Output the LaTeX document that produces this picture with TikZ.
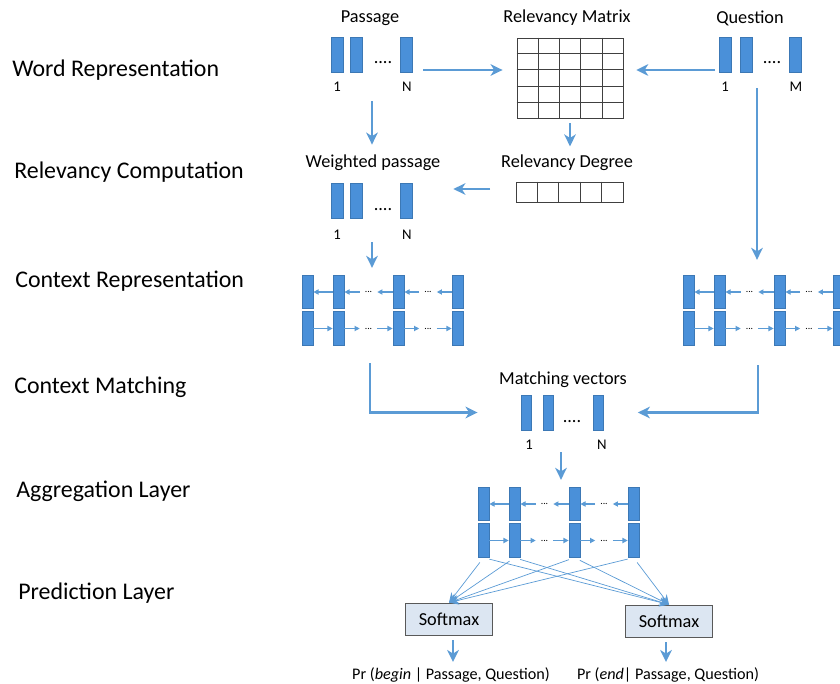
\documentclass[tikz,border=0pt]{standalone}
\usepackage{fontspec}
\setmainfont{Carlito}
\usepackage{xcolor}
\usepackage{tikz}
\usetikzlibrary{arrows.meta,calc}

\definecolor{barblue}{HTML}{4A90D9}
\definecolor{bardark}{HTML}{3C78B5}
\definecolor{flowblue}{HTML}{5B9BD5}
\definecolor{boxfill}{HTML}{DCE6F2}

\tikzset{
  layername/.style={anchor=west,inner sep=0pt,font=\fontsize{17}{20}\selectfont},
  headtext/.style={inner sep=1pt,font=\fontsize{13}{15}\selectfont},
  idx/.style={inner sep=1pt,font=\fontsize{10.5}{12}\selectfont},
  vbar/.style={draw=bardark,fill=barblue,line width=0.5pt,minimum width=3mm,minimum height=8.75mm,inner sep=0pt},
  cbar/.style={vbar,minimum width=2.75mm,minimum height=8.4mm},
  vdots/.style={anchor=base,inner sep=0pt,font=\fontsize{13}{15}\selectfont},
  rdots/.style={inner sep=0pt,minimum width=4.25mm,font=\fontsize{7}{8}\selectfont},
  gridline/.style={draw=black!75,line width=0.6pt,inner sep=0pt},
  flow/.style={draw=flowblue,line width=1.9pt,-{Stealth[length=3mm,width=2.9mm,inset=0.9mm]}},
  rnn/.style={draw=flowblue,line width=0.8pt,-{Triangle[length=1.3mm,width=1.3mm]}},
  fan/.style={draw=flowblue,line width=0.5pt,-{Stealth[length=2.4mm,width=2.2mm]}},
  softbox/.style={draw=black!65,fill=boxfill,line width=0.6pt,minimum width=21.75mm,minimum height=8mm,font=\fontsize{13}{15}\selectfont},
  probtext/.style={inner sep=1pt,font=\fontsize{11.5}{13}\selectfont}
}

\begin{document}
\begin{tikzpicture}[x=0.025cm,y=-0.025cm]
\useasboundingbox (0,0) rectangle (840,683);

% layer names
\node[layername] (lword) at (12,70) {Word Representation};
\node[layername] (lrel) at (14,172) {Relevancy Computation};
\node[layername] (lctx) at (15,281) {Context Representation};
\node[layername] (lmatch) at (14,387) {Context Matching};
\node[layername] (lagg) at (16,491) {Aggregation Layer};
\node[layername] (lpred) at (18,593) {Prediction Layer};

% passage
\node[headtext] (tpass) at (370,18) {Passage};
\node[vbar] (p1) at (337,54.5) {};
\node[vbar] (p2) at (356,54.5) {};
\node[vbar] (pN) at (406,54.5) {};
\node[vdots] (pdots) at (383,64) {....};
\node[idx] (lp1) at (337,87) {1};
\node[idx] (lpN) at (407,87) {N};

% question
\node[headtext] (tques) at (750,18) {Question};
\node[vbar] (q1) at (725.5,55) {};
\node[vbar] (q2) at (746,55) {};
\node[vbar] (qM) at (795.5,55) {};
\node[vdots] (qdots) at (772,64) {....};
\node[idx] (lq1) at (725,87) {1};
\node[idx] (lqM) at (796,87) {M};

% relevancy matrix
\node[headtext] (tmat) at (567,18) {Relevancy Matrix};
\node[gridline,minimum width=26.5mm,minimum height=20mm] (mat) at (570,78) {};
\foreach \i in {1,...,4} {
  \draw[gridline] ($(mat.north west)!\i/5!(mat.north east)$) -- ($(mat.south west)!\i/5!(mat.south east)$);
  \draw[gridline] ($(mat.north west)!\i/5!(mat.south west)$) -- ($(mat.north east)!\i/5!(mat.south east)$);
}

% relevancy degree
\node[headtext] (tdeg) at (567,163) {Relevancy Degree};
\node[gridline,minimum width=26.75mm,minimum height=5mm] (deg) at (569.5,192) {};
\foreach \i in {1,...,4}
  \draw[gridline] ($(deg.north west)!\i/5!(deg.north east)$) -- ($(deg.south west)!\i/5!(deg.south east)$);

% weighted passage
\node[headtext] (twei) at (373,163) {Weighted passage};
\node[vbar] (w1) at (337,200.5) {};
\node[vbar] (w2) at (356,200.5) {};
\node[vbar] (wN) at (406,200.5) {};
\node[vdots] (wdots) at (383,210) {....};
\node[idx] (lw1) at (337,235) {1};
\node[idx] (lwN) at (407,235) {N};

% context layers and aggregation layer
\foreach \nm/\dx/\dy in {cl/0/0,cr/381/0,ag/176/212} {
  \begin{scope}[shift={(\dx,\dy)}]
    \node[cbar] (\nm1t) at (307.5,292) {};
    \node[cbar] (\nm2t) at (338.5,292) {};
    \node[cbar] (\nm3t) at (398.5,292) {};
    \node[cbar] (\nm4t) at (457.5,292) {};
    \node[cbar] (\nm1b) at (307.5,328.5) {};
    \node[cbar] (\nm2b) at (338.5,328.5) {};
    \node[cbar] (\nm3b) at (398.5,328.5) {};
    \node[cbar] (\nm4b) at (457.5,328.5) {};
    \node[rdots] (\nm-dt1) at (368.5,292) {...};
    \node[rdots] (\nm-dt2) at (428,292) {...};
    \node[rdots] (\nm-db1) at (368.5,328.5) {...};
    \node[rdots] (\nm-db2) at (428,328.5) {...};
  \end{scope}
  \draw[rnn] (\nm2t) -- (\nm1t);
  \draw[rnn] (\nm-dt1) -- (\nm2t);
  \draw[rnn] (\nm3t) -- (\nm-dt1);
  \draw[rnn] (\nm-dt2) -- (\nm3t);
  \draw[rnn] (\nm4t) -- (\nm-dt2);
  \draw[rnn] (\nm1b) -- (\nm2b);
  \draw[rnn] (\nm2b) -- (\nm-db1);
  \draw[rnn] (\nm-db1) -- (\nm3b);
  \draw[rnn] (\nm3b) -- (\nm-db2);
  \draw[rnn] (\nm-db2) -- (\nm4b);
}

% matching vectors
\node[headtext] (tmv) at (563,380) {Matching vectors};
\node[vbar,minimum width=2.5mm] (mv1) at (526.5,412.5) {};
\node[vbar,minimum width=2.5mm] (mv2) at (548,412.5) {};
\node[vbar,minimum width=2.5mm] (mvN) at (598.5,412.5) {};
\node[vdots] (mvdots) at (572,422) {....};
\node[idx] (lmv1) at (529,445) {1};
\node[idx] (lmvN) at (602,445) {N};

% prediction
\node[softbox] (sm1) at (449,619) {Softmax};
\node[softbox] (sm2) at (669,621) {Softmax};
\node[probtext] (pbeg) at (451,675) {Pr (\textit{begin} | Passage, Question)};
\node[probtext] (pend) at (668,675) {Pr (\textit{end}| Passage, Question)};

% connectors
\coordinate (pout) at (423,70);
\coordinate (qout) at (715,70);
\coordinate (pdn) at (372,101);
\coordinate (dout) at (490,189);
\coordinate (wdn) at (372,242);
\coordinate (qdn) at (757,88);
\coordinate (clout) at (370,363);
\coordinate (crout) at (758,365);
\coordinate (mvdn) at (561,452);

\draw[flow,shorten >=3.5mm] (pout) -- (pout -| mat.west);
\draw[flow,shorten >=3.2mm] (qout) -- (qout -| mat.east);
\draw[flow,shorten >=2.2mm] (pdn) -- (pdn |- twei.north);
\draw[flow,shorten <=1.25mm,shorten >=1.75mm] (mat.south) -- (mat.south |- tdeg.north);
\draw[flow,shorten >=10.25mm] (dout) -- (dout -| wN.east);
\draw[flow,shorten >=1.75mm] (wdn) -- (wdn |- cl1t.north);
\draw[flow,shorten >=3.75mm] (qdn) -- (qdn |- cr1t.north);
\draw[flow,shorten >=10.9mm] (clout) |- (mv1.west);
\draw[flow,shorten >=8.5mm] (crout) |- (mvN.east);
\draw[flow,shorten >=1.75mm] (mvdn) -- (mvdn |- ag1t.north);

\foreach \b in {1,...,4} {
  \draw[fan,shorten <=1.5mm] (ag\b b.south) -- (sm1.north);
  \draw[fan,shorten <=1.5mm] (ag\b b.south) -- (sm2.north);
}

\draw[flow,shorten <=1.25mm,shorten >=1mm] (sm1.south) ++(4,0) coordinate (s1o) -- (s1o |- pbeg.north);
\draw[flow,shorten <=1.25mm,shorten >=1mm] (sm2.south) ++(-3,0) coordinate (s2o) -- (s2o |- pend.north);
\end{tikzpicture}
\end{document}
